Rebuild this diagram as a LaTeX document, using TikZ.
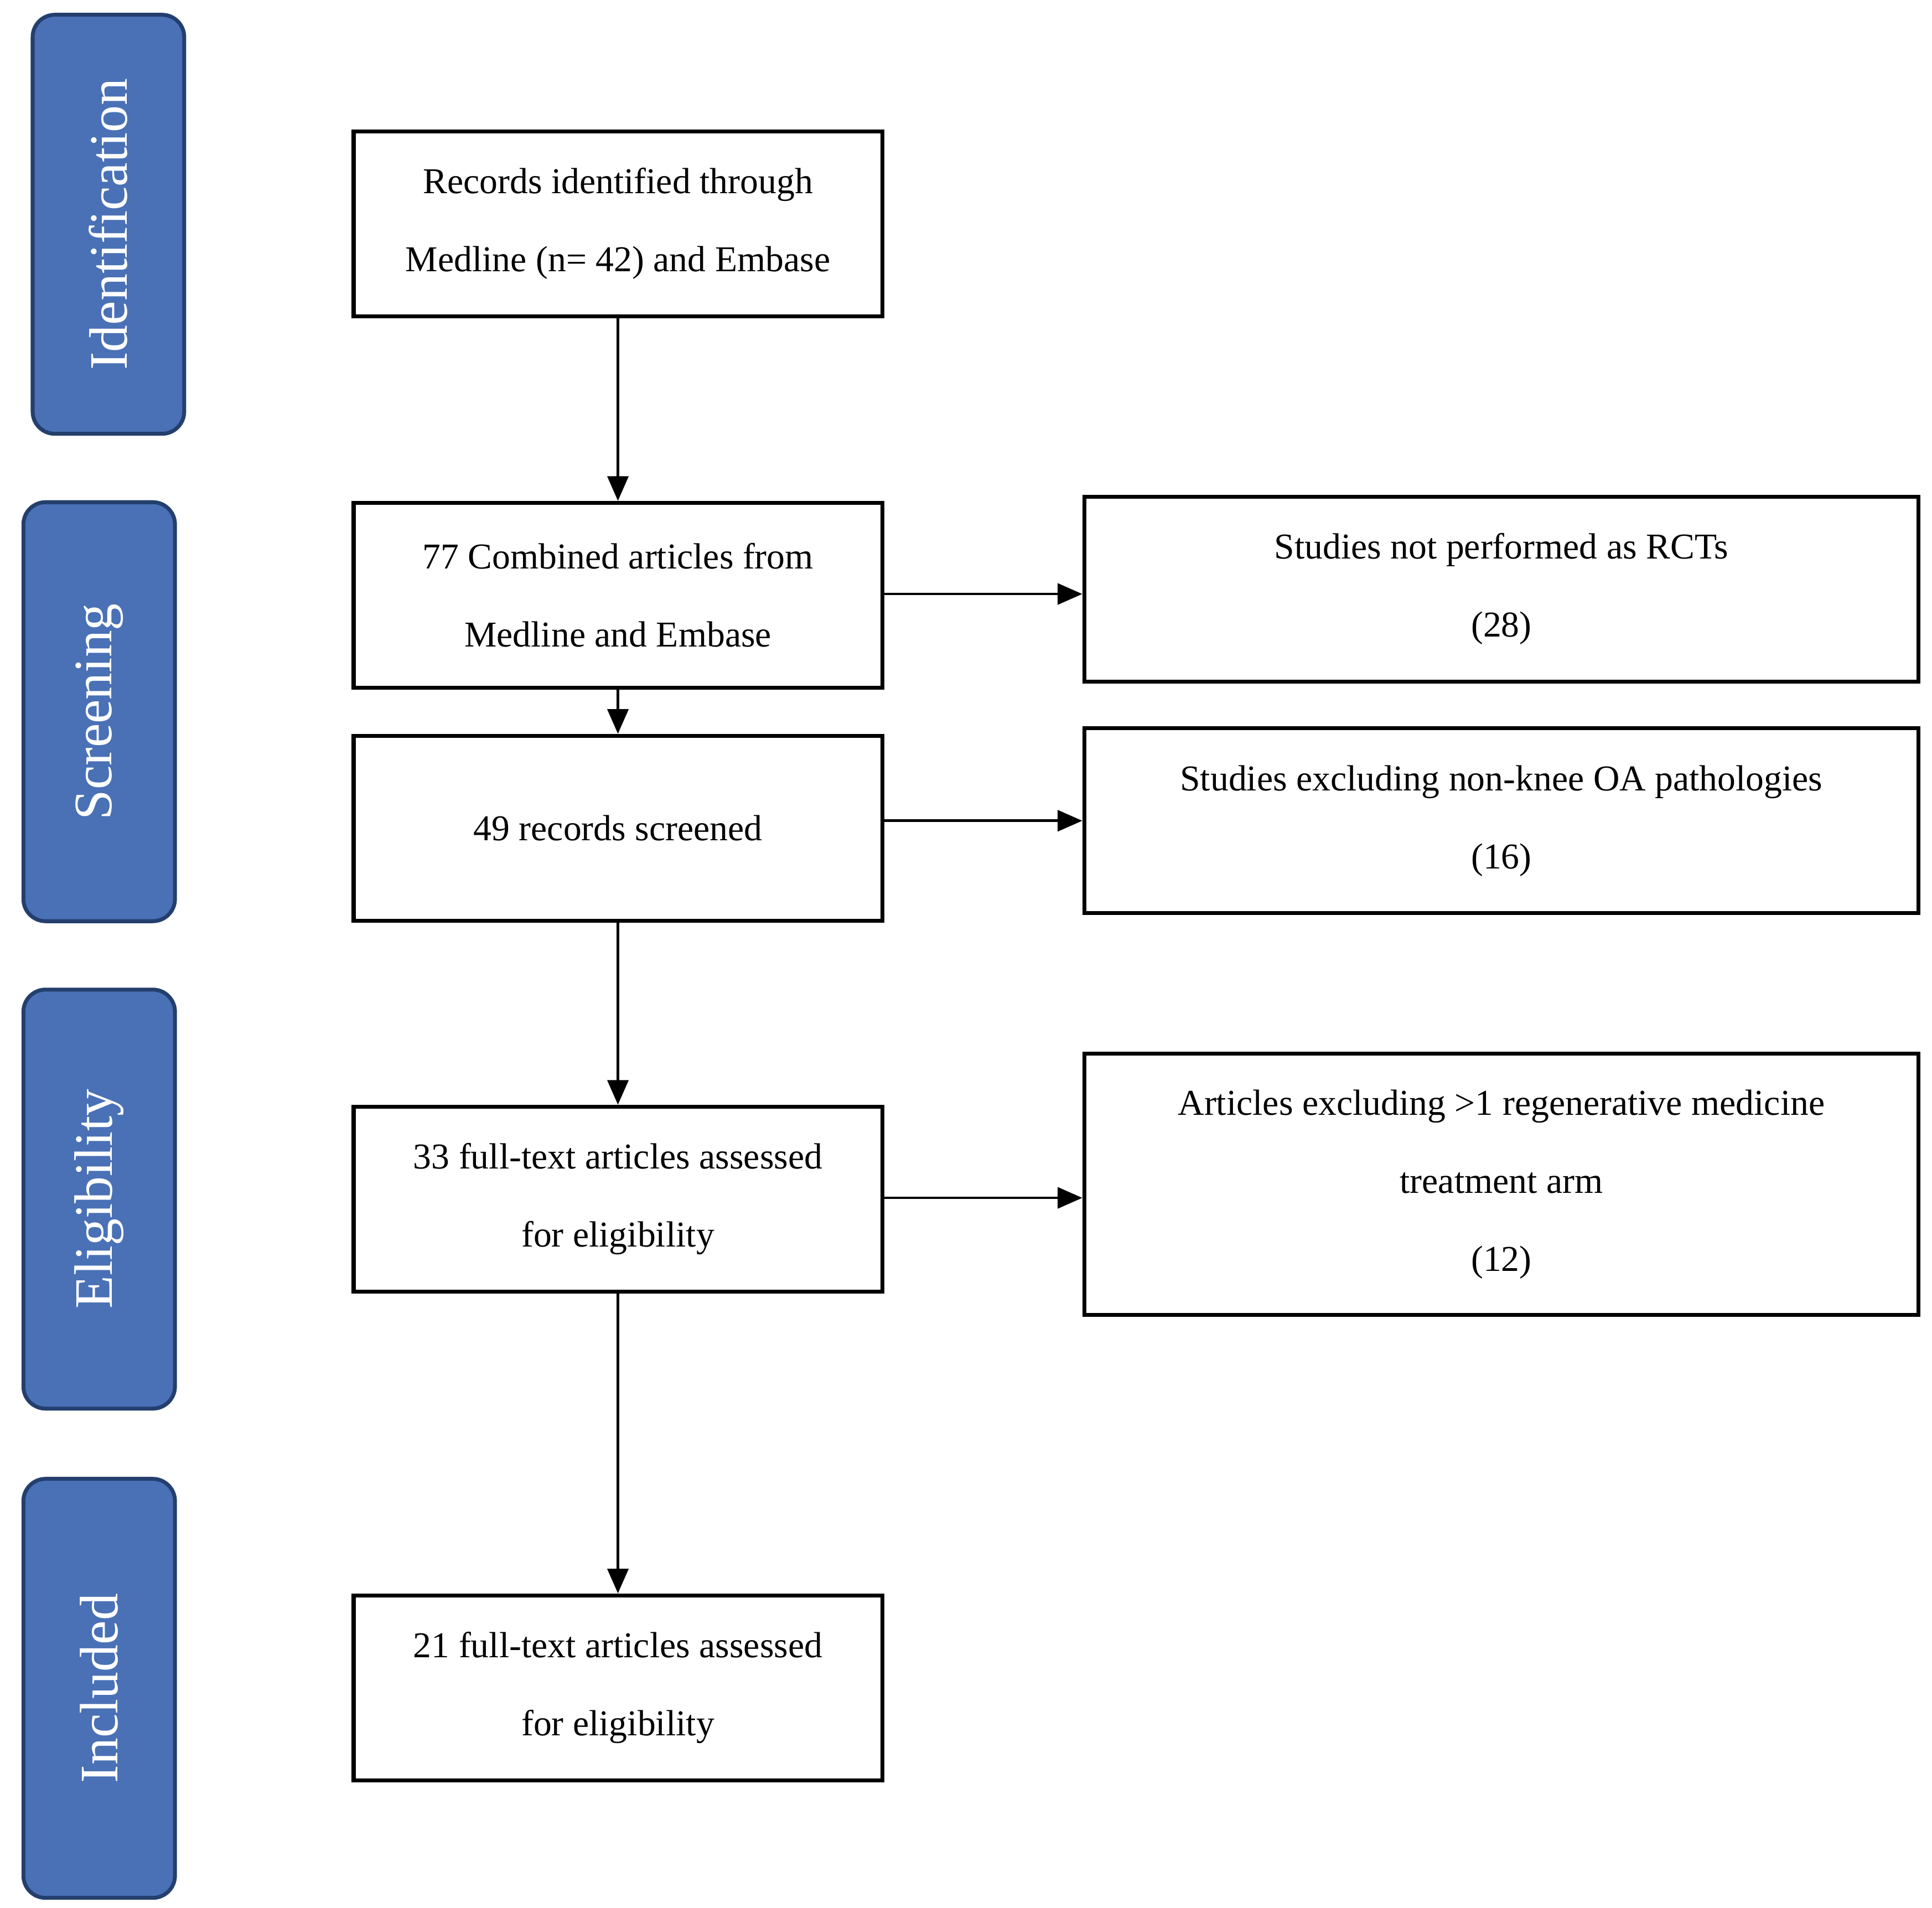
\documentclass[tikz,border=0pt]{standalone}
\usepackage{fontspec}
\setmainfont{Liberation Serif}
\usetikzlibrary{arrows.meta}
\definecolor{stageblue}{HTML}{4A71B6}
\definecolor{stageedge}{HTML}{243F6E}

\begin{document}
\begin{tikzpicture}
    % Styles
    \tikzset{
        stage/.style={draw=stageedge,line width=0.9pt,fill=stageblue,rounded corners=0.18cm,
            minimum width=1.23cm,minimum height=3.4cm},
        stagetext/.style={text=white,rotate=90,font=\fontsize{12.5}{14}\selectfont},
        box/.style={draw,line width=0.9pt,minimum width=4.29cm,minimum height=1.5cm,
            align=center,font=\fontsize{8.4}{18}\selectfont},
        sidebox/.style={box,minimum width=6.77cm},
        flow/.style={line width=0.6pt,-{Triangle[length=0.2cm,width=0.17cm]}}
    }
    \useasboundingbox (0,0) rectangle (15.68,-15.48);

    % Stages
    \node[stage] (ident) at (0.88,-1.82){};
    \node[stagetext] at (ident) {Identification};
    \node[stage] (screen) at (0.805,-5.775){};
    \node[stagetext] at (screen) {Screening};
    \node[stage] (elig) at (0.805,-9.73){};
    \node[stagetext] at (elig) {Eligibility};
    \node[stage] (incl) at (0.805,-13.70){};
    \node[stagetext] at (incl) {Included};

    % Main column
    \node[box] (records) at (5.015,-1.815){Records identified through\\Medline (n= 42) and Embase};
    \node[box] (combined) at (5.015,-4.83){77 Combined articles from\\Medline and Embase};
    \node[box] (screened) at (5.015,-6.72){49 records screened};
    \node[box] (fulltext) at (5.015,-9.73){33 full-text articles assessed\\for eligibility};
    \node[box] (included) at (5.015,-13.695){21 full-text articles assessed\\for eligibility};

    % Exclusions
    \node[sidebox] (norct) at (12.185,-4.78){Studies not performed as RCTs\\(28)};
    \node[sidebox] (nonknee) at (12.185,-6.66){Studies excluding non-knee OA pathologies\\(16)};
    \node[sidebox,minimum height=2.12cm] (multiarm) at (12.185,-9.61){Articles excluding {>}1 regenerative medicine\\treatment arm\\(12)};

    % Connections
    \draw[flow] (records) -- (combined);
    \draw[flow] (combined) -- (screened);
    \draw[flow] (screened) -- (fulltext);
    \draw[flow] (fulltext) -- (included);
    \draw[flow] (combined.east |- 0,-4.82) -- (norct.west |- 0,-4.82);
    \draw[flow] (screened.east |- 0,-6.66) -- (nonknee.west |- 0,-6.66);
    \draw[flow] (fulltext.east |- 0,-9.72) -- (multiarm.west |- 0,-9.72);
\end{tikzpicture}
\end{document}
